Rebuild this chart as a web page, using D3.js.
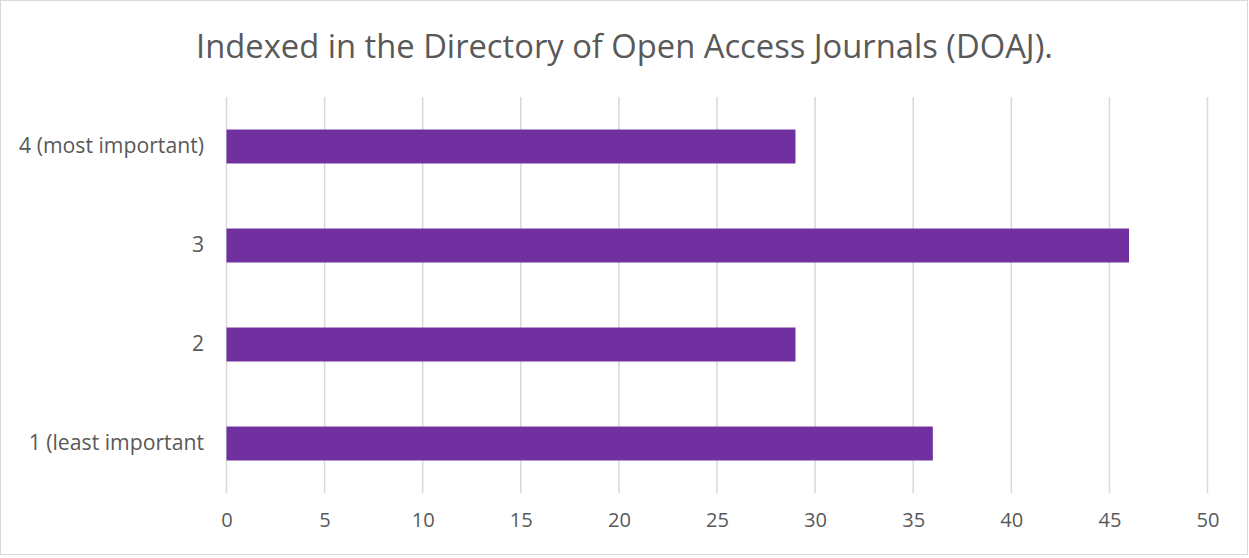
<!DOCTYPE html>
<html><head><meta charset="utf-8">
<script src="https://cdn.jsdelivr.net/npm/d3@7"></script>
<style>html,body{margin:0;padding:0;background:#fff;} svg{display:block;}</style>
</head><body>
<script>
const categories = ["4 (most important)", "3", "2", "1 (least important"];
const values = [29, 46, 29, 36];
const tickValues = [0, 5, 10, 15, 20, 25, 30, 35, 40, 45, 50];
const title = "Indexed in the Directory of Open Access Journals (DOAJ).";

const W = 1249, H = 558;
const font = "'Open Sans', 'Liberation Sans', sans-serif";
const svg = d3.select("body").append("svg").attr("width", W).attr("height", H);
svg.append("rect").attr("x", 0.5).attr("y", 0.5).attr("width", W - 2).attr("height", H - 4)
  .attr("fill", "#fff").attr("stroke", "#d9d9d9");

const x = d3.scaleLinear().domain([0, 50]).range([226.5, 1207.5]);
const y = d3.scaleBand().domain(categories).range([97, 493]).paddingInner(0.657).paddingOuter(0.3285);

// gridlines
svg.append("g").selectAll("line").data(tickValues).join("line")
  .attr("x1", d => x(d)).attr("x2", d => x(d)).attr("y1", 97).attr("y2", 493)
  .attr("stroke", "#d9d9d9").attr("stroke-width", 1.5);

// bars
svg.append("g").selectAll("rect").data(values).join("rect")
  .attr("x", x(0)).attr("y", (d, i) => y(categories[i]))
  .attr("width", d => x(d) - x(0)).attr("height", y.bandwidth())
  .attr("fill", "#7030a0");

// x axis
const xAxis = svg.append("g").attr("transform", "translate(0,493)")
  .call(d3.axisBottom(x).tickValues(tickValues).tickSize(0).tickPadding(20));
xAxis.select(".domain").remove();
const xt = xAxis.selectAll("text").attr("fill", "#595959").style("font-family", font).style("font-size", "17px");
const w10 = xt.filter(d => d === 10).node().getComputedTextLength();
xt.style("font-size", (17 * 23 / w10).toFixed(2) + "px");

// y axis
const yAxis = svg.append("g").attr("transform", "translate(204,0)")
  .call(d3.axisLeft(y).tickSize(0).tickPadding(0));
yAxis.select(".domain").remove();
const yt = yAxis.selectAll("text").attr("fill", "#595959").style("font-family", font).style("font-size", "17px");
const wl = yt.filter(d => d === categories[0]).node().getComputedTextLength();
yt.style("font-size", (17 * 185 / wl).toFixed(2) + "px");

// title
const t = svg.append("text").attr("x", 624.5).attr("y", 58).attr("text-anchor", "middle")
  .attr("fill", "#595959").style("font-family", font).style("font-size", "30px").text(title);
const tl = t.node().getComputedTextLength();
t.style("font-size", (30 * 857 / tl).toFixed(2) + "px");
</script>
</body></html>
